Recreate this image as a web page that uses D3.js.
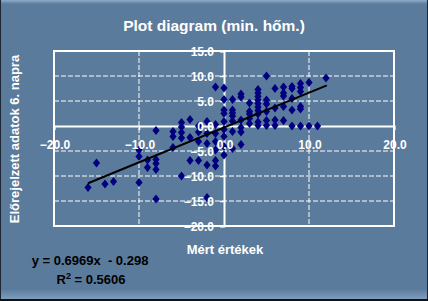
<!DOCTYPE html>
<html><head><meta charset="utf-8">
<script src="https://cdn.jsdelivr.net/npm/d3@7/dist/d3.min.js"></script>
<style>
html,body{margin:0;padding:0;background:#5b7b9c;}
svg{display:block;}
text{font-family:"Liberation Sans",Arial,sans-serif;font-weight:bold;}
</style></head>
<body>
<script>
// ---- data ----
const pointsX = [-16,-15,-14,-13,-10,-10,-10,-9,-9,-8,-8,-8,-8,-8,-6,-6,-6,-5,-5,-5,-5,-5,-4,-4,-4,
  -3,-3,-3,-3,-2,-2,-2,-2,-2,-1,-1,-1,-1,-1,-1,-1,0,0,0,0,0,0,0,0,0,
  1,1,1,1,1,1,1,2,2,2,2,2,2,3,3,3,3,3,4,4,4,4,4,4,4,4,4,4,
  5,5,5,5,5,5,6,6,6,6,7,7,7,7,7,8,8,8,8,8,9,9,9,9,9,9,10,10,11,12];
const pointsY = [-12.3,-7.4,-11.6,-11.1,-4.8,-6.1,-11.3,-6.8,-8.3,-0.9,-6.7,-7.5,-8.7,-14.6,-1.1,-2.1,-4.3,0.7,-0.2,-1.3,-2.4,-10.0,1.3,-2.3,-6.9,
  0,-1.2,-3.1,-6.9,0.9,-1.5,-3.5,-7.8,-14.3,7.8,0.3,-1.5,-3.1,-4.8,-6.9,-8.0,7.6,5.3,3.2,2.5,0.9,-0.7,-2.1,-4.1,-5.8,
  5.3,3.2,2.6,2.0,1.0,-1.1,-4.5,6.4,5.8,1.2,-0.3,-1.2,-3.7,4.6,2.9,2.4,1.5,0.5,7.3,6.6,5.9,5.2,4.5,3.8,3.1,2.4,0.8,0.1,
  10.0,5.2,4.4,2.9,1.1,0.1,7.5,3.6,1.2,0.1,7.8,6.6,6.0,3.9,1.1,7.9,7.5,5.5,3.2,0,8.5,7.7,6.9,3.9,3.4,0,8.7,0,0,9.6];
const xTicks = [-20,-10,0,10,20];
const yTicks = [-20,-15,-10,-5,0,5,10,15];
const trendSlope = 0.6969, trendIntercept = -0.298;
const trendRange = [-16, 12.1];
const titleText = "Plot diagram (min. hőm.)";
const xTitle = "Mért értékek";
const yTitle = "Előrejelzett adatok 6. napra";
const eqText = "y = 0.6969x  - 0.298";
const r2Value = "0.5606";

// ---- chart ----
const W = 428, H = 301;
const svg = d3.select("body").append("svg").attr("width", W).attr("height", H);
const bg = "#5b7b9c";
svg.append("rect").attr("width", W).attr("height", H).attr("fill", bg);
// bevel frame
const defs = svg.append("defs");
const gTop = defs.append("linearGradient").attr("id","gt").attr("x1",0).attr("x2",0).attr("y1",0).attr("y2",1);
gTop.append("stop").attr("offset","0%").attr("stop-color","#8fabc9");
gTop.append("stop").attr("offset","100%").attr("stop-color",bg);
svg.append("rect").attr("x",0).attr("y",0).attr("width",W).attr("height",4).attr("fill","url(#gt)");
const gBot = defs.append("linearGradient").attr("id","gb").attr("x1",0).attr("x2",0).attr("y1",0).attr("y2",1);
gBot.append("stop").attr("offset","0%").attr("stop-color",bg);
gBot.append("stop").attr("offset","100%").attr("stop-color","#7f9dbd");
svg.append("rect").attr("x",0).attr("y",289).attr("width",W).attr("height",10).attr("fill","url(#gb)");
svg.append("rect").attr("x",0).attr("y",0).attr("width",1).attr("height",H).attr("fill","#1c2634");
svg.append("rect").attr("x",W-1).attr("y",0).attr("width",1).attr("height",H).attr("fill","#1c2634");
svg.append("rect").attr("x",0).attr("y",H-2).attr("width",W).attr("height",2).attr("fill","#111");

const x = d3.scaleLinear().domain([-20,20]).range([54,394]);
const y = d3.scaleLinear().domain([-20,15]).range([226,51]);

// title
svg.append("text").attr("x",214).attr("y",31).attr("text-anchor","middle")
  .attr("fill","#fff").style("font-size","15.5px").text(titleText);

// grid
const grid = svg.append("g");
grid.selectAll("line.h").data(yTicks.filter(d => d !== 0 && d !== -20 && d !== 15)).join("line")
  .attr("x1",x(-20)).attr("x2",x(20)).attr("y1",d=>y(d)).attr("y2",d=>y(d))
  .attr("stroke","#fff").attr("stroke-width",1).attr("stroke-dasharray","5,2");
grid.selectAll("line.v").data(xTicks.filter(d => d !== 0 && Math.abs(d) !== 20)).join("line")
  .attr("y1",y(15)).attr("y2",y(-20)).attr("x1",d=>x(d)).attr("x2",d=>x(d))
  .attr("stroke","#fff").attr("stroke-width",1).attr("stroke-dasharray","5,2");
// plot border
svg.append("rect").attr("x",x(-20)).attr("y",y(15)).attr("width",x(20)-x(-20)).attr("height",y(-20)-y(15))
  .attr("fill","none").attr("stroke","#fff").attr("stroke-width",2);

// axes through zero
const xAxis = d3.axisBottom(x).tickValues(xTicks).tickSize(4).tickFormat(()=>"");
const gx = svg.append("g").attr("transform",`translate(0,${y(0)})`).call(xAxis);
gx.select(".domain").attr("stroke","#fff").attr("stroke-width",2);
gx.selectAll(".tick line").attr("stroke","#fff").attr("stroke-width",1.5);
const yAxis = d3.axisLeft(y).tickValues(yTicks).tickSize(4).tickFormat(()=>"");
const gy = svg.append("g").attr("transform",`translate(${x(0)},0)`).call(yAxis);
gy.select(".domain").attr("stroke","#fff").attr("stroke-width",2);
gy.selectAll(".tick line").attr("stroke","#fff").attr("stroke-width",1.5);

// points
const diamond = "M0,-4.5L3.6,0L0,4.5L-3.6,0Z";
svg.append("g").selectAll("path").data(pointsX.map((d,i)=>[d,pointsY[i]])).join("path")
  .attr("d",diamond).attr("transform",d=>`translate(${x(d[0])},${y(d[1])})`)
  .attr("fill","#000080");

// trend line
svg.append("line")
  .attr("x1",x(trendRange[0])).attr("y1",y(trendSlope*trendRange[0]+trendIntercept))
  .attr("x2",x(trendRange[1])).attr("y2",y(trendSlope*trendRange[1]+trendIntercept))
  .attr("stroke","#000").attr("stroke-width",2);

// tick labels
const fmt = d3.format(".1f");
svg.append("g").selectAll("text").data(xTicks).join("text")
  .attr("x",d=>x(d)+1).attr("y",y(0)+23).attr("text-anchor","middle")
  .attr("fill","#fff").style("font-size","12px").text(d=>fmt(d));
svg.append("g").selectAll("text").data(yTicks).join("text")
  .attr("x",x(0)-10).attr("y",d=>y(d)+4.5).attr("text-anchor","end")
  .attr("fill","#fff").style("font-size","12px").text(d=>fmt(d));

// axis titles
svg.append("text").attr("x",225).attr("y",254).attr("text-anchor","middle")
  .attr("fill","#fff").style("font-size","13px").text(xTitle);
svg.append("text").attr("transform","translate(19,139) rotate(-90)").attr("text-anchor","middle")
  .attr("fill","#fff").style("font-size","13px").text(yTitle);

// equation
svg.append("text").attr("x",90).attr("y",265).attr("text-anchor","middle")
  .attr("fill","#000").style("font-size","13px").style("white-space","pre").text(eqText);
const r2 = svg.append("text").attr("x",91).attr("y",284).attr("text-anchor","middle")
  .attr("fill","#000").style("font-size","13px");
r2.append("tspan").text("R");
r2.append("tspan").attr("dy",-5).style("font-size","9px").text("2");
r2.append("tspan").attr("dy",5).text(" = " + r2Value);
</script>
</body></html>
